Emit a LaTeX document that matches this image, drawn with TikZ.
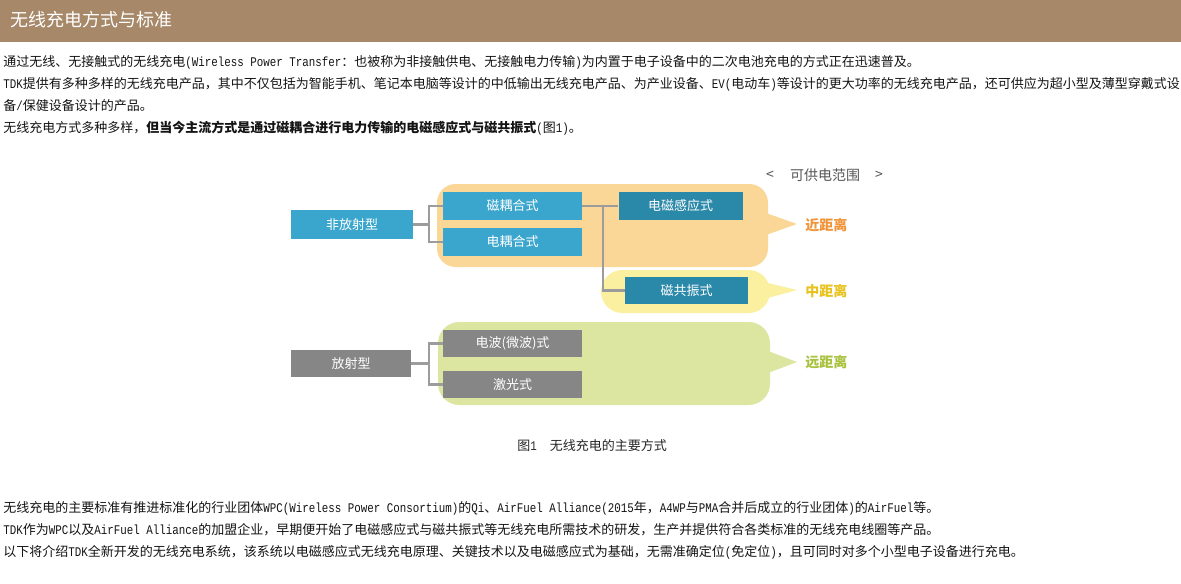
\documentclass[tikz,border=0pt]{standalone}
\usepackage{fontspec}
\usepackage{graphicx}
\setmainfont{Noto Sans CJK SC}
\newfontfamily\latfont{Liberation Mono}
\newcommand{\lat}[1]{\scalebox{1}[1.22]{\latfont\fontsize{8.125}{12}\selectfont #1}}
\newcommand{\px}{0.75pt}
\definecolor{titlebar}{HTML}{A7896A}
\definecolor{lblue}{HTML}{3AA6CE}
\definecolor{dblue}{HTML}{2A88A9}
\definecolor{gbox}{HTML}{868686}
\definecolor{conncol}{HTML}{9C9C9C}
\definecolor{regorange}{HTML}{FAD796}
\definecolor{regyellow}{HTML}{FBF0A0}
\definecolor{reggreen}{HTML}{DDE6A0}
\definecolor{txtorange}{HTML}{F0953A}
\definecolor{txtyellow}{HTML}{E8C21E}
\definecolor{txtgreen}{HTML}{A8C23E}
\definecolor{txtgray}{HTML}{555555}
\pgfdeclarelayer{regions}
\pgfdeclarelayer{links}
\pgfsetlayers{regions,links,main}
\tikzset{
  body/.style={anchor=west, inner sep=0pt, text=black!92, font=\fontsize{9.75}{12}\selectfont},
  boxbase/.style={inner sep=0pt, text=white, font=\fontsize{9.75}{12}\selectfont},
  bluebox/.style={boxbase, fill=lblue},
  darkbox/.style={boxbase, fill=dblue},
  graybox/.style={boxbase, fill=gbox},
  conn/.style={draw=conncol, line width=2.2pt},
  rangetxt/.style={inner sep=0pt, text=txtgray, font=\fontsize{10.5}{12}\selectfont},
  distlabel/.style={anchor=west, inner sep=0pt, font=\fontsize{10.5}{12}\selectfont\bfseries},
}
\begin{document}
\begin{tikzpicture}[x=0.75pt,y=-0.75pt]
\useasboundingbox (0,0) rectangle (1181,583);
\begin{pgfonlayer}{regions}
\fill[white] (0,0) rectangle (1181,583);
\fill[titlebar] (0,0) rectangle (1181,42);
\fill[regorange, rounded corners=14] (437,184) rectangle (768,267);
\fill[regorange] (766,213) -- (797,224) -- (766,235) -- cycle;
\fill[regyellow, rounded corners=16] (601,270) rectangle (770,313);
\fill[regyellow] (768,283) -- (797,290) -- (768,298) -- cycle;
\fill[reggreen, rounded corners=16] (438,322) rectangle (770,405);
\fill[reggreen] (768,351) -- (797,362) -- (768,373) -- cycle;
\end{pgfonlayer}
% title
\node[anchor=west, inner sep=0pt, text=white, font=\fontsize{13.5}{15}\selectfont] (title) at (10,20) {无线充电方式与标准};
% paragraphs
\node[body] (p1) at (3,62) {通过无线、无接触式的无线充电\lat{(Wireless Power Transfer}：也被称为非接触供电、无接触电力传输\lat{)}为内置于电子设备中的二次电池充电的方式正在迅速普及。};
\node[body] (p2) at (3,84) {\lat{TDK}提供有多种多样的无线充电产品，其中不仅包括为智能手机、笔记本电脑等设计的中低输出无线充电产品、为产业设备、\lat{EV(}电动车\lat{)}等设计的更大功率的无线充电产品，还可供应为超小型及薄型穿戴式设};
\node[body] (p3) at (3,106) {备\lat{/}保健设备设计的产品。};
\node[body] (p4) at (3,128) {无线充电方式多种多样，{\bfseries 但当今主流方式是通过磁耦合进行电力传输的电磁感应式与磁共振式}\lat{(}图\lat{1)}。};
% range header
\node[rangetxt] (lt) at (770,175) {<};
\node[rangetxt] (range) at (825,175) {可供电范围};
\node[rangetxt] (gt) at (879,175) {>};
% distance labels
\node[distlabel, text=txtorange] (near) at (805,225) {近距离};
\node[distlabel, text=txtyellow] (mid) at (805,291) {中距离};
\node[distlabel, text=txtgreen] (far) at (805,362) {远距离};
% boxes
\node[bluebox, minimum width=122*\px, minimum height=29*\px] (nfs) at (352,224.5) {非放射型};
\node[bluebox, minimum width=139*\px, minimum height=28*\px] (chm) at (512.5,206) {磁耦合式};
\node[bluebox, minimum width=139*\px, minimum height=28*\px] (dou) at (512.5,242) {电耦合式};
\node[darkbox, minimum width=124*\px, minimum height=28*\px] (dcg) at (680.5,206) {电磁感应式};
\node[darkbox, minimum width=123*\px, minimum height=27*\px] (cgz) at (686.5,290.5) {磁共振式};
\node[graybox, minimum width=120*\px, minimum height=27*\px] (fs) at (351,363.5) {放射型};
\node[graybox, minimum width=139*\px, minimum height=27*\px] (dbo) at (512.5,343.5) {电波(微波)式};
\node[graybox, minimum width=139*\px, minimum height=27*\px] (jg) at (512.5,384.5) {激光式};
% connectors
\coordinate (k1) at (429,224.5);
\coordinate (k2) at (603,206);
\coordinate (k3) at (429,363.5);
\begin{pgfonlayer}{links}
\draw[conn] (nfs.east) -- (k1);
\draw[conn] (chm.west) -| (k1) |- (dou.west);
\draw[conn] (chm.east) -- (dcg.west);
\draw[conn] (k2) |- (cgz.west);
\draw[conn] (fs.east) -- (k3);
\draw[conn] (dbo.west) -| (k3) |- (jg.west);
\end{pgfonlayer}
% caption
\node[anchor=west, inner sep=0pt, text=black!85, font=\fontsize{9.75}{12}\selectfont] (cap) at (517,446) {图\lat{1}\hspace{1em}无线充电的主要方式};
% bottom paragraphs
\node[body] (b1) at (3,508) {无线充电的主要标准有推进标准化的行业团体\lat{WPC(Wireless Power Consortium)}的\lat{Qi}、\lat{AirFuel Alliance(2015}年，\lat{A4WP}与\lat{PMA}合并后成立的行业团体\lat{)}的\lat{AirFuel}等。};
\node[body] (b2) at (3,530) {\lat{TDK}作为\lat{WPC}以及\lat{AirFuel Alliance}的加盟企业，早期便开始了电磁感应式与磁共振式等无线充电所需技术的研发，生产并提供符合各类标准的无线充电线圈等产品。};
\node[body] (b3) at (3,552) {以下将介绍\lat{TDK}全新开发的无线充电系统，该系统以电磁感应式无线充电原理、关键技术以及电磁感应式为基础，无需准确定位\lat{(}免定位\lat{)}，且可同时对多个小型电子设备进行充电。};
\end{tikzpicture}
\end{document}
